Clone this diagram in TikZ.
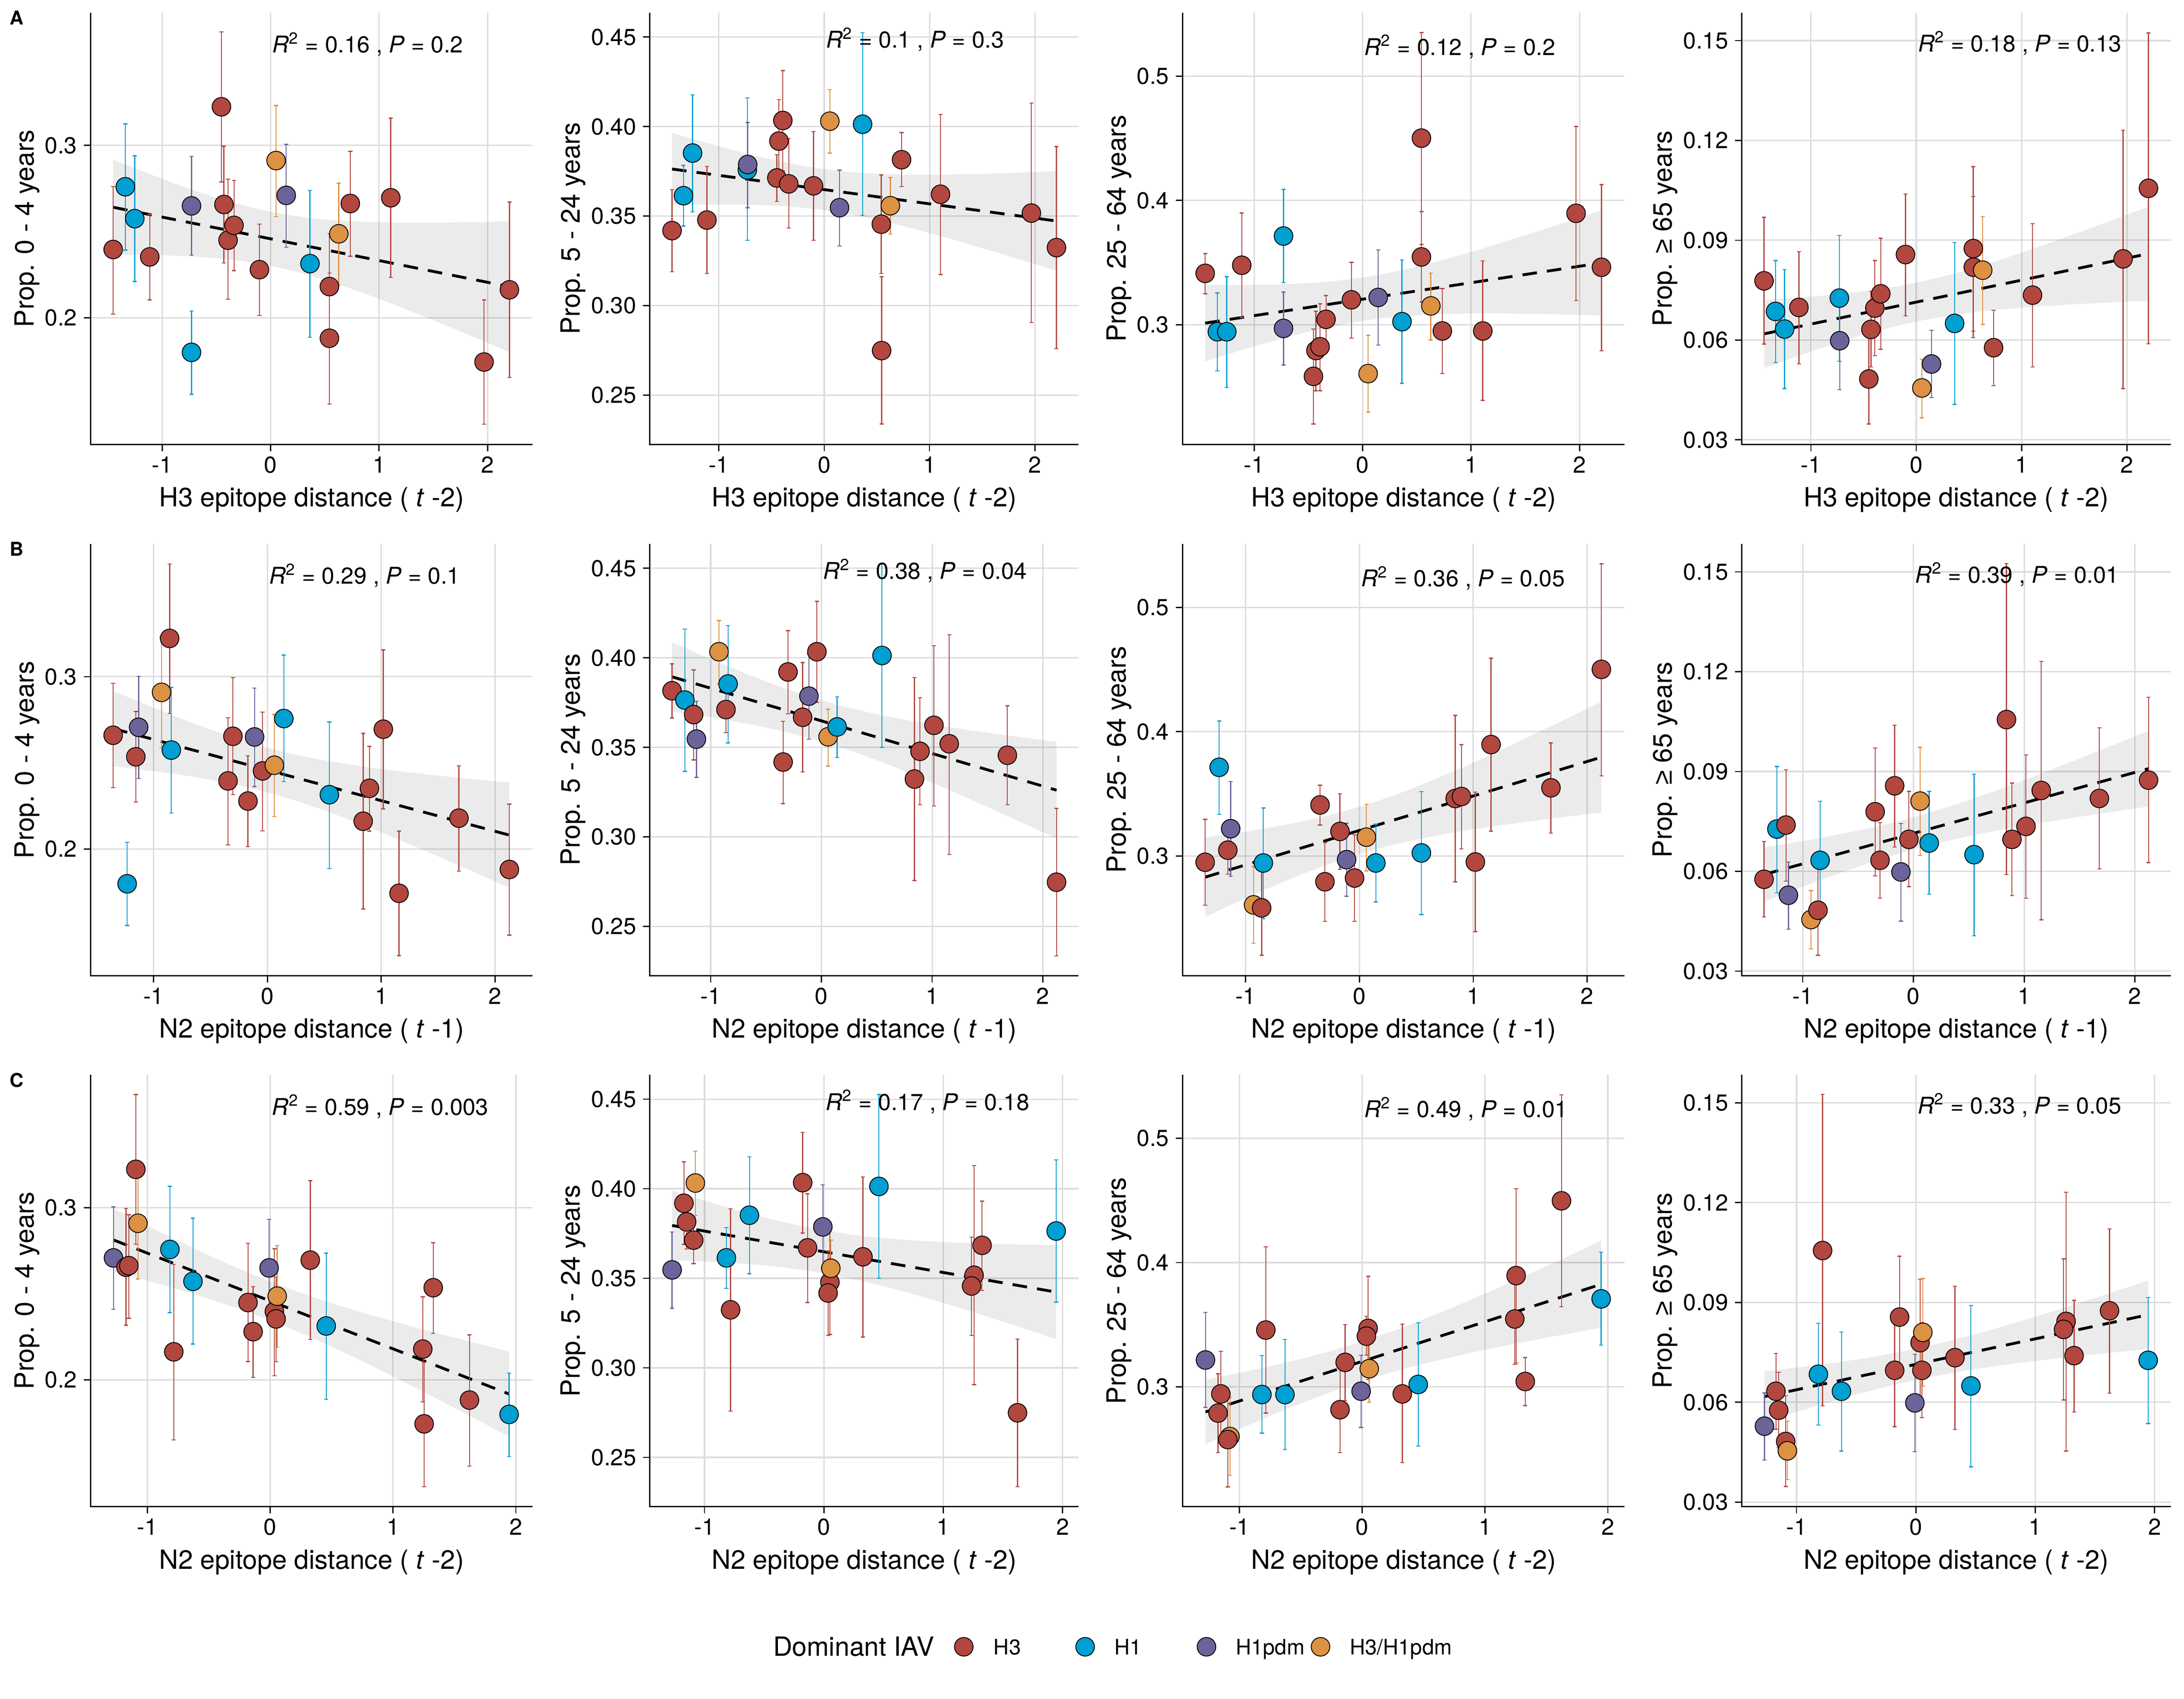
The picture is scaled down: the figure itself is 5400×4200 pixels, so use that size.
\documentclass[tikz,border=0pt]{standalone}
\usepackage{fontspec}
\setmainfont{TeX Gyre Heros}
\newfontfamily\libfont{Liberation Sans}
\definecolor{cr}{HTML}{B2473F}
\definecolor{cb}{HTML}{00A0D2}
\definecolor{cp}{HTML}{6A649A}
\definecolor{co}{HTML}{DD9142}
\definecolor{gridc}{HTML}{DCDCDC}
\tikzset{
  gridl/.style={draw=gridc, line width=0.97pt},
  axisl/.style={draw=black, line width=0.85pt},
  regl/.style={draw=black, line width=2pt, dash pattern=on 0.36cm off 0.25cm},
  bandf/.style={fill=black, fill opacity=0.08},
  ebar/.style={line width=0.74pt},
  ptst/.style={draw=black, line width=0.6pt},
  ticklab/.style={inner sep=0pt, font=\fontsize{16.2}{19}\selectfont},
  titlelab/.style={inner sep=0pt, font=\fontsize{18.6}{22}\selectfont},
  leglab/.style={inner sep=0pt, font=\fontsize{15}{18}\selectfont},
  letter/.style={inner sep=0pt, anchor=base west, font=\bfseries\fontsize{13.4}{16}\selectfont},
}
\newcommand\annot[2]{\textit{R}\textsuperscript{2} = #1 , \textit{P} = #2}
\pgfkeys{/pan/.cd,
  ox/.store in=\pOX, T/.store in=\pT, pl/.store in=\pPL, pr/.store in=\pPR,
  xo/.store in=\pXO, xu/.store in=\pXU, yo/.store in=\pYO, yv/.store in=\pYV,
  yu/.store in=\pYU, yt/.store in=\pYT, xl/.store in=\pXL, yl/.store in=\pYL,
  ann/.store in=\pANN, ay/.store in=\pAY, xmin/.store in=\pXmin,
  xmax/.store in=\pXmax, a/.store in=\pA, b/.store in=\pB, h/.store in=\pH,
  col1/.style={ox=0, pl=224, pr=1317, yo=328, yv=30, yu=42.6, yt={20/0.2,30/0.3}, yl={Prop. 0 - 4 years}, ay=99},
  col2/.style={ox=1350, pl=1606.6, pr=2667, yo=281.4, yv=40, yu=44.27, yt={25/0.25,30/0.30,35/0.35,40/0.40,45/0.45}, yl={Prop. 5 - 24 years}, ay=87},
  col3/.style={ox=2700, pl=2924, pr=4017, yo=771.1, yv=30, yu=30.72, yt={30/0.3,40/0.4,50/0.5}, yl={Prop. 25 - 64 years}, ay=105},
  col4/.style={ox=4050, pl=4306.6, pr=5367, yo=562.4, yv=9, yu=82.25, yt={3/0.03,6/0.06,9/0.09,12/0.12,15/0.15}, yl={Prop. {\libfont ≥} 65 years}, ay=96},
  rowA/.style={T=31.5, xl={H3 epitope distance ( \textit{t} -2)}},
  rowB/.style={T=1344.8, xl={N2 epitope distance ( \textit{t} -1)}},
  rowC/.style={T=2657.3, xl={N2 epitope distance ( \textit{t} -2)}},
}
\newcommand\panel[2]{%
  \pgfkeys{/pan/.cd,#1}%
  \pgfmathsetmacro\pBot{\pT+1067}%
  \foreach \vv/\vl in \pYT {%
    \pgfmathsetmacro\yy{\pT+\pYO-(\vv-\pYV)*\pYU}%
    \draw[gridl] (\pPL,\yy) -- (\pPR,\yy);%
  }%
  \foreach \vv in {-1,0,1,2} {%
    \pgfmathsetmacro\xx{\pXO+\vv*\pXU}%
    \draw[gridl] (\xx,\pT) -- (\xx,\pBot);%
  }%
  \pgfmathsetmacro\sy{\pT+\pYO+\pYV*\pYU}%
  \pgfmathsetmacro\xuc{\pXU*0.01}%
  \pgfmathsetmacro\yuc{\pYU*0.01}%
  \begin{scope}[shift={(\pXO,\sy)}, x=\xuc cm, y=\yuc cm]
    \fill[bandf] plot[domain=\pXmin:\pXmax, samples=41] (\x,{\pA+(\pB)*(\x)+\pH*sqrt(1+(\x)*(\x))})
      -- plot[domain=\pXmax:\pXmin, samples=41] (\x,{\pA+(\pB)*(\x)-\pH*sqrt(1+(\x)*(\x))}) -- cycle;
    \draw[regl] (\pXmin,{\pA+(\pB)*(\pXmin)}) -- (\pXmax,{\pA+(\pB)*(\pXmax)});
    \foreach \vc/\vx/\vy/\vt/\vb in {#2} {%
      \draw[ebar, c\vc] (\vx,\vb) -- (\vx,\vt)
        (\vx,\vt) ++(-0.05cm,0) -- ++(0.1cm,0)
        (\vx,\vb) ++(-0.05cm,0) -- ++(0.1cm,0);%
    }%
    \foreach \vc/\vx/\vy/\vt/\vb in {#2} {%
      \filldraw[ptst, fill=c\vc] (\vx,\vy) circle[radius=0.23cm];%
    }%
  \end{scope}
  \draw[axisl] (\pPL,\pT) -- (\pPL,\pBot) -- (\pPR,\pBot);
  \foreach \vv/\vl in \pYT {%
    \pgfmathsetmacro\yy{\pT+\pYO-(\vv-\pYV)*\pYU}%
    \draw[axisl] ({\pPL-16.6},\yy) -- (\pPL,\yy);%
    \node[ticklab, anchor=east] at ({\pPL-33},\yy) {\vl};%
  }%
  \foreach \vv in {-1,0,1,2} {%
    \pgfmathsetmacro\xx{\pXO+\vv*\pXU}%
    \draw[axisl] (\xx,\pBot) -- (\xx,{\pBot+16.6});%
    \node[ticklab, anchor=base] at (\xx,{\pBot+70.5}) {\vv};%
  }%
  \node[titlelab, anchor=base] at ({(\pPL+\pPR)/2},{\pBot+154}) {\pXL};
  \node[titlelab, anchor=base, rotate=90] at ({\pOX+83.5},{\pT+533.5}) {\pYL};
  \node[ticklab, anchor=base west] at ({\pXO+4},{\pT+\pAY}) {\pANN};
}
\begin{document}
\begin{tikzpicture}[x=0.01cm,y=-0.01cm]
\useasboundingbox (0,0) rectangle (5400,4200);
\node[letter] at (24,61.5) {A};
\node[letter] at (24,1374.8) {B};
\node[letter] at (24,2687.3) {C};
% ---------------- Row A ----------------
\panel{col1,rowA,xo=669.0,xu=268.2,ann={\annot{0.16}{0.2}},xmin=-1.451,xmax=2.202,a=24.58,b=-1.262,h=1.57}{
r/-1.451/23.96/27.62/20.21, b/-1.339/27.60/31.25/23.92, b/-1.252/25.75/29.40/22.10,
r/-1.114/23.53/26.00/21.03, p/-0.729/26.49/29.36/23.63, b/-0.729/17.99/20.39/15.56,
r/-0.453/32.24/36.59/27.88, r/-0.430/26.57/29.96/23.18, r/-0.392/24.50/28.05/21.07,
r/-0.337/25.36/27.97/22.73, r/-0.103/22.79/25.44/20.14, o/0.051/29.12/32.32/25.87,
p/0.144/27.10/30.06/24.09, b/0.363/23.14/27.39/18.87, r/0.5425/21.81/24.87/18.79,
r/0.5425/18.81/22.59/14.99, o/0.629/24.87/27.80/21.89, r/0.735/26.63/29.65/23.57,
r/1.108/26.96/31.58/22.34, r/1.968/17.43/21.03/13.82, r/2.202/21.62/26.71/16.53}
\panel{col2,rowA,xo=2037.9,xu=260.4,ann={\annot{0.1}{0.3}},xmin=-1.445,xmax=2.205,a=36.48,b=-0.795,h=1.15}{
r/-1.445/34.19/36.48/31.89, b/-1.336/36.14/37.83/34.44, b/-1.250/38.52/41.78/35.24,
r/-1.114/34.78/37.77/31.80, b/-0.730/37.58/41.61/33.65, p/-0.727/37.88/40.22/35.47,
r/-0.393/40.34/43.13/37.52, r/-0.430/39.19/41.50/36.87, r/-0.450/37.13/38.43/35.82,
r/-0.337/36.80/39.33/34.33, r/-0.102/36.69/39.72/33.65, o/0.053/40.30/42.06/38.52,
p/0.145/35.47/37.57/33.33, b/0.364/40.13/45.24/35.04, r/0.542/34.55/37.30/31.80,
o/0.628/35.58/37.15/33.99, r/0.545/27.49/31.61/23.39, r/0.734/38.15/39.66/36.65,
r/1.104/36.22/40.67/31.74, r/1.967/35.17/41.31/29.06, r/2.205/33.24/38.88/27.60}
\panel{col3,rowA,xo=3369.0,xu=268.2,ann={\annot{0.12}{0.2}},xmin=-1.451,xmax=2.202,a=32.05,b=1.325,h=1.75}{
r/-1.451/34.13/35.72/32.48, b/-1.339/29.43/32.56/26.28, b/-1.252/29.43/33.86/24.95,
r/-1.114/34.78/38.99/30.59, b/-0.729/37.13/40.88/33.37, p/-0.729/29.70/32.62/26.76,
r/-0.453/25.84/29.65/22.01, r/-0.430/27.92/31.08/24.68, r/-0.392/28.22/31.67/24.68,
r/-0.337/30.43/32.35/28.49, r/-0.103/32.00/35.02/28.92, o/0.051/26.06/29.14/22.96,
p/0.144/32.19/36.02/28.35, b/0.363/30.24/35.21/25.28, r/0.5425/45.01/53.51/36.45,
r/0.5425/35.45/39.10/31.81, o/0.629/31.51/34.16/28.76, r/0.735/29.49/32.91/26.06,
r/1.108/29.49/35.13/23.90, r/1.968/38.96/45.95/31.94, r/2.202/34.62/41.28/27.89}
\panel{col4,rowA,xo=4737.9,xu=260.4,ann={\annot{0.18}{0.13}},xmin=-1.445,xmax=2.205,a=7.14,b=0.660,h=0.585}{
r/-1.445/7.78/9.69/5.88, b/-1.336/6.86/8.39/5.32, b/-1.250/6.33/8.12/4.54,
r/-1.114/6.98/8.66/5.28, b/-0.730/7.26/9.14/5.36, p/-0.727/5.98/7.44/4.51,
r/-0.450/4.83/6.19/3.48, r/-0.430/6.32/7.46/5.19, r/-0.393/6.96/8.39/5.53,
r/-0.337/7.39/9.06/5.72, r/-0.102/8.57/10.39/6.73, o/0.053/4.56/5.43/3.66,
p/0.145/5.28/6.29/4.27, b/0.364/6.50/8.93/4.07, r/0.542/8.75/11.21/6.27,
r/0.542/8.19/10.31/6.07, o/0.631/8.10/9.71/6.47, r/0.734/5.77/6.90/4.63,
r/1.104/7.35/9.50/5.19, r/1.964/8.44/12.31/4.54, r/2.205/10.56/15.23/5.89}
% ---------------- Row B ----------------
\panel{col1,rowB,xo=661.2,xu=281.5,ann={\annot{0.29}{0.1}},xmin=-1.355,xmax=2.125,a=24.58,b=-1.777,h=1.3}{
r/-1.355/26.60/29.61/23.56, p/-1.131/27.06/30.02/24.09, r/-1.156/25.35/27.98/22.72,
b/-1.232/17.98/20.39/15.56, o/-0.930/29.09/32.32/25.86, r/-0.859/32.22/36.54/27.86,
b/-0.844/25.74/29.38/22.08, r/-0.346/23.95/27.61/20.23, r/-0.303/26.54/29.94/23.15,
r/-0.171/22.78/25.41/20.14, p/-0.113/26.50/29.34/23.62, r/-0.043/24.53/27.95/21.05,
o/0.061/24.86/27.80/21.89, b/0.144/27.57/31.25/23.91, b/0.544/23.15/27.37/18.87,
r/0.841/21.61/26.71/16.52, r/0.896/23.52/25.95/21.03, r/1.018/26.95/31.56/22.33,
r/1.156/17.43/21.03/13.81, r/1.682/21.79/24.82/18.72, r/2.125/18.81/22.61/15.00}
\panel{col2,rowB,xo=2031.0,xu=273.8,ann={\annot{0.38}{0.04}},xmin=-1.349,xmax=2.123,a=36.48,b=-1.823,h=1.15}{
r/-1.349/38.16/39.66/36.64, b/-1.233/37.64/41.61/33.66, r/-1.154/36.83/39.32/34.30,
p/-1.129/35.46/37.58/33.32, o/-0.925/40.34/42.08/38.54, b/-0.843/38.54/41.80/35.25,
r/-0.862/37.11/38.43/35.82, r/-0.346/34.18/36.45/31.86, r/-0.302/39.21/41.52/36.87,
r/-0.170/36.68/39.74/33.62, p/-0.113/37.86/40.21/35.46, r/-0.041/40.34/43.15/37.52,
o/0.060/35.59/37.13/33.96, b/0.142/36.14/37.82/34.43, b/0.547/40.13/45.27/35.01,
r/0.840/33.23/38.89/27.56, r/0.890/34.78/37.77/31.80, r/1.016/36.23/40.68/31.73,
r/1.154/35.20/41.29/29.02, r/1.679/34.56/37.32/31.80, r/2.123/27.47/31.59/23.36}
\panel{col3,rowB,xo=3361.2,xu=281.5,ann={\annot{0.36}{0.05}},xmin=-1.355,xmax=2.125,a=32.05,b=2.774,h=1.9}{
r/-1.355/29.49/32.94/26.03, b/-1.232/37.13/40.85/33.35, p/-1.131/32.19/35.99/28.35,
r/-1.156/30.46/32.35/28.52, o/-0.930/26.06/29.14/22.98, r/-0.859/25.82/29.65/22.01,
b/-0.844/29.43/33.86/24.95, r/-0.346/34.10/35.69/32.48, r/-0.303/27.92/31.08/24.74,
r/-0.171/31.97/34.99/28.92, p/-0.113/29.70/32.62/26.76, r/-0.043/28.22/31.70/24.74,
o/0.061/31.51/34.16/28.79, b/0.144/29.43/32.56/26.30, b/0.544/30.24/35.18/25.28,
r/0.841/34.62/41.31/27.92, r/0.896/34.78/38.96/30.57, r/1.018/29.51/35.13/23.90,
r/1.156/38.96/45.92/32.00, r/1.682/35.48/39.10/31.84, r/2.125/45.01/53.51/36.45}
\panel{col4,rowB,xo=4731.0,xu=273.8,ann={\annot{0.39}{0.01}},xmin=-1.349,xmax=2.123,a=7.14,b=0.916,h=0.485}{
r/-1.349/5.76/6.90/4.63, b/-1.233/7.27/9.15/5.35, r/-1.151/7.39/9.05/5.70,
p/-1.129/5.28/6.28/4.26, o/-0.925/4.55/5.42/3.67, r/-0.862/4.83/6.19/3.48,
b/-0.843/6.33/8.11/4.54, r/-0.346/7.79/9.71/5.86, r/-0.302/6.33/7.46/5.19,
r/-0.170/8.57/10.39/6.73, p/-0.113/5.98/7.44/4.50, r/-0.041/6.96/8.40/5.54,
o/0.060/8.11/9.73/6.48, b/0.142/6.85/8.40/5.31, b/0.547/6.50/8.92/4.06,
r/0.840/10.56/15.25/5.90, r/0.890/6.96/8.65/5.27, r/1.016/7.35/9.50/5.19,
r/1.154/8.43/12.31/4.54, r/1.679/8.19/10.31/6.07, r/2.123/8.74/11.23/6.26}
% ---------------- Row C ----------------
\panel{col1,rowC,xo=668.1,xu=303.7,ann={\annot{0.59}{0.003}},xmin=-1.276,xmax=1.945,a=24.58,b=-2.776,h=1.13}{
p/-1.276/27.08/30.04/24.09, r/-1.174/26.54/29.96/23.17, r/-1.151/26.63/29.59/23.58,
o/-1.077/29.09/32.32/25.86, r/-1.094/32.22/36.56/27.88, b/-0.817/27.57/31.23/23.91,
r/-0.785/21.63/26.71/16.52, b/-0.629/25.72/29.38/22.08, r/-0.181/24.49/27.92/21.07,
r/-0.139/22.80/25.41/20.14, p/-0.009/26.50/29.32/23.62, r/0.034/23.97/27.61/20.25,
r/0.048/23.54/25.97/21.05, o/0.057/24.86/27.80/21.89, r/0.326/26.95/31.56/22.35,
b/0.456/23.13/27.35/18.87, r/1.242/21.79/24.82/18.72, r/1.327/25.35/27.96/22.70,
r/1.253/17.45/21.03/13.81, r/1.622/18.83/22.61/15.00, b/1.945/18.00/20.39/15.56}
\panel{col2,rowC,xo=2037.1,xu=295.1,ann={\annot{0.17}{0.18}},xmin=-1.272,xmax=1.946,a=36.48,b=-1.156,h=1.2}{
p/-1.272/35.47/37.58/33.33, r/-1.173/39.19/41.50/36.89, r/-1.150/38.15/39.66/36.63,
o/-1.077/40.32/42.10/38.52, r/-1.091/37.13/38.42/35.82, b/-0.817/36.14/37.83/34.44,
r/-0.782/33.24/38.88/27.58, b/-0.624/38.52/41.78/35.26, r/-0.178/40.34/43.15/37.53,
r/-0.137/36.70/39.72/33.65, p/-0.009/37.87/40.22/35.58, r/0.050/34.78/37.77/31.87,
r/0.035/34.18/36.52/31.80, o/0.058/35.56/37.13/33.96, r/0.327/36.20/40.66/31.72,
b/0.461/40.13/45.26/35.00, r/1.258/35.17/41.29/29.06, r/1.237/34.57/37.30/31.80,
r/1.325/36.84/39.31/34.31, r/1.622/27.49/31.61/23.37, b/1.946/37.64/41.61/33.67}
\panel{col3,rowC,xo=3368.1,xu=303.7,ann={\annot{0.49}{0.01}},xmin=-1.276,xmax=1.945,a=32.05,b=3.19,h=1.6}{
p/-1.276/32.16/36.00/28.35, r/-1.151/29.43/32.86/26.03, r/-1.174/27.89/31.05/24.70,
o/-1.077/26.00/29.16/22.89, r/-1.094/25.76/29.65/21.95, b/-0.817/29.38/32.51/26.27,
r/-0.785/34.57/41.27/27.89, b/-0.629/29.38/33.81/24.95, r/-0.181/28.16/31.65/24.70,
r/-0.139/31.97/35.00/28.89, p/-0.009/29.65/32.54/26.73, r/0.048/34.70/38.89/30.57,
r/0.034/34.08/35.68/32.54, o/0.057/31.46/34.24/28.76, r/0.326/29.43/35.05/23.89,
b/0.456/30.19/35.16/25.24, r/1.253/38.95/45.95/31.92, r/1.242/35.46/39.10/31.81,
r/1.327/30.43/32.35/28.49, r/1.622/44.97/53.51/36.46, b/1.945/37.08/40.84/33.35}
\panel{col4,rowC,xo=4737.1,xu=295.1,ann={\annot{0.33}{0.05}},xmin=-1.269,xmax=1.946,a=7.14,b=0.765,h=0.47}{
p/-1.269/5.28/6.28/4.26, r/-1.173/6.33/7.47/5.19, r/-1.150/5.76/6.90/4.63,
r/-1.091/4.82/6.19/3.47, o/-1.077/4.54/5.43/3.67, b/-0.817/6.84/8.37/5.31,
r/-0.782/10.56/15.25/5.89, b/-0.624/6.33/8.11/4.53, r/-0.178/6.96/8.65/5.27,
r/-0.137/8.56/10.39/6.73, p/-0.009/5.98/7.44/4.51, r/0.035/7.79/9.70/5.88,
r/0.050/6.96/8.40/5.54, o/0.058/8.10/9.72/6.48, r/0.327/7.34/9.49/5.18,
b/0.461/6.49/8.91/4.06, r/1.258/8.43/12.31/4.53, r/1.237/8.19/10.31/6.07,
r/1.325/7.40/9.06/5.71, r/1.622/8.75/11.21/6.27, b/1.946/7.26/9.15/5.36}
% ---------------- Legend ----------------
\node[titlelab, anchor=base west] (legtitle) at (1911,4094) {Dominant IAV};
\filldraw[ptst, fill=cr] (2383,4071) circle[radius=0.23cm];
\node[leglab, anchor=base west] (legH3) at (2456,4090) {H3};
\filldraw[ptst, fill=cb] (2683,4071) circle[radius=0.23cm];
\node[leglab, anchor=base west] (legH1) at (2755,4090) {H1};
\filldraw[ptst, fill=cp] (2983,4071) circle[radius=0.23cm];
\node[leglab, anchor=base west] (legPdm) at (3055,4090) {H1pdm};
\filldraw[ptst, fill=co] (3265,4071) circle[radius=0.23cm];
\node[leglab, anchor=base west] (legMix) at (3337,4090) {H3/H1pdm};
\end{tikzpicture}
\end{document}
